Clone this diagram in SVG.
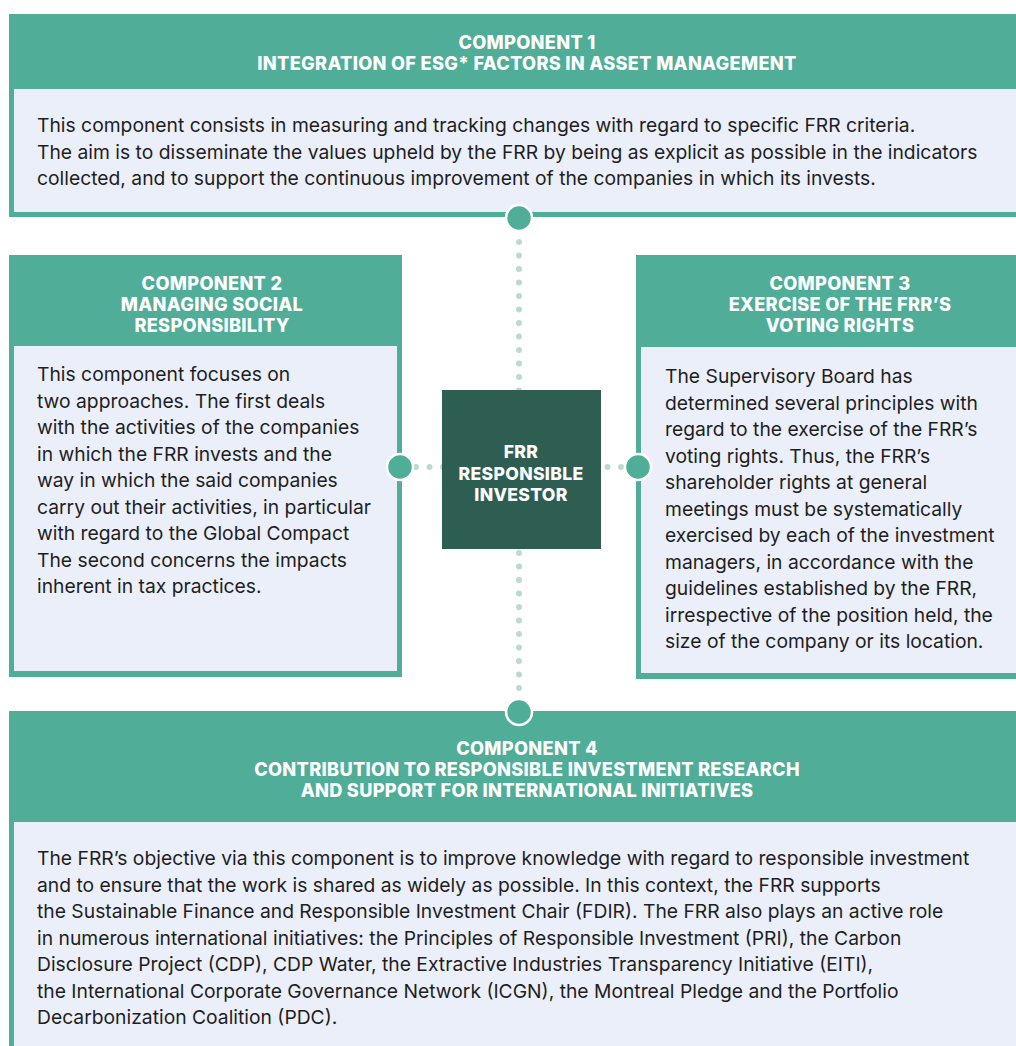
<svg xmlns="http://www.w3.org/2000/svg" width="1016" height="1046" viewBox="0 0 1016 1046">
<style>
.hd{fill:#50ad98}
.bd{fill:#ebeffa}
.ht{font-family:Inter,"Liberation Sans",sans-serif;font-weight:800;font-size:18.2px;fill:#ffffff;text-anchor:middle;letter-spacing:0.3px}
.nt{font-size:17.6px}
.bt{font-family:Inter,"Liberation Sans",sans-serif;font-size:19.3px;fill:#1e1e1e}
.dots{stroke:#b9dccf;stroke-width:6;stroke-linecap:round;stroke-dasharray:0 13.5;fill:none}
.pin{fill:#50ad98;stroke:#ffffff;stroke-width:2.5}
</style>
<rect width="1016" height="1046" fill="#ffffff"/>
<g id="connectors">
<line class="dots" x1="519" y1="242" x2="519" y2="392"/>
<line class="dots" x1="519" y1="553" x2="519" y2="700"/>
<line class="dots" x1="416" y1="467" x2="444" y2="467"/>
<line class="dots" x1="621" y1="467" x2="598" y2="467"/>
</g>
<g id="component1">
<rect class="hd" x="9" y="14" width="1040" height="203"/>
<rect class="bd" x="14" y="89" width="1035" height="123"/>
<text class="ht" x="527" y="49">COMPONENT 1</text>
<text class="ht" x="527" y="70">INTEGRATION OF ESG* FACTORS IN ASSET MANAGEMENT</text>
<text class="bt" x="37" y="132">This component consists in measuring and tracking changes with regard to specific FRR criteria.</text>
<text class="bt" x="37" y="158.5">The aim is to disseminate the values upheld by the FRR by being as explicit as possible in the indicators</text>
<text class="bt" x="37" y="185">collected, and to support the continuous improvement of the companies in which its invests.</text>
</g>
<g id="component2">
<rect class="hd" x="9" y="255" width="393" height="422"/>
<rect class="bd" x="14" y="346" width="383" height="325"/>
<text class="ht" x="212" y="290">COMPONENT 2</text>
<text class="ht" x="212" y="311">MANAGING SOCIAL</text>
<text class="ht" x="212" y="332">RESPONSIBILITY</text>
<text class="bt" x="37" y="381">This component focuses on</text>
<text class="bt" x="37" y="407.5">two approaches. The first deals</text>
<text class="bt" x="37" y="434">with the activities of the companies</text>
<text class="bt" x="37" y="460.5">in which the FRR invests and the</text>
<text class="bt" x="37" y="487">way in which the said companies</text>
<text class="bt" x="37" y="513.5">carry out their activities, in particular</text>
<text class="bt" x="37" y="540">with regard to the Global Compact</text>
<text class="bt" x="37" y="566.5">The second concerns the impacts</text>
<text class="bt" x="37" y="593">inherent in tax practices.</text>
</g>
<g id="component3">
<rect class="hd" x="636" y="255" width="413" height="424"/>
<rect class="bd" x="641" y="347" width="408" height="326"/>
<text class="ht" x="840" y="290">COMPONENT 3</text>
<text class="ht" x="840" y="311">EXERCISE OF THE FRR’S</text>
<text class="ht" x="840" y="332">VOTING RIGHTS</text>
<text class="bt" x="665" y="383">The Supervisory Board has</text>
<text class="bt" x="665" y="409.5">determined several principles with</text>
<text class="bt" x="665" y="436">regard to the exercise of the FRR’s</text>
<text class="bt" x="665" y="462.5">voting rights. Thus, the FRR’s</text>
<text class="bt" x="665" y="489">shareholder rights at general</text>
<text class="bt" x="665" y="515.5">meetings must be systematically</text>
<text class="bt" x="665" y="542">exercised by each of the investment</text>
<text class="bt" x="665" y="568.5">managers, in accordance with the</text>
<text class="bt" x="665" y="595">guidelines established by the FRR,</text>
<text class="bt" x="665" y="621.5">irrespective of the position held, the</text>
<text class="bt" x="665" y="648">size of the company or its location.</text>
</g>
<g id="component4">
<rect class="hd" x="9" y="711" width="1040" height="340"/>
<rect class="bd" x="14" y="822" width="1035" height="230"/>
<text class="ht" x="527" y="755">COMPONENT 4</text>
<text class="ht" x="527" y="776">CONTRIBUTION TO RESPONSIBLE INVESTMENT RESEARCH</text>
<text class="ht" x="527" y="797">AND SUPPORT FOR INTERNATIONAL INITIATIVES</text>
<text class="bt" x="37" y="865">The FRR’s objective via this component is to improve knowledge with regard to responsible investment</text>
<text class="bt" x="37" y="891.5">and to ensure that the work is shared as widely as possible. In this context, the FRR supports</text>
<text class="bt" x="37" y="918">the Sustainable Finance and Responsible Investment Chair (FDIR). The FRR also plays an active role</text>
<text class="bt" x="37" y="944.5">in numerous international initiatives: the Principles of Responsible Investment (PRI), the Carbon</text>
<text class="bt" x="37" y="971">Disclosure Project (CDP), CDP Water, the Extractive Industries Transparency Initiative (EITI),</text>
<text class="bt" x="37" y="997.5">the International Corporate Governance Network (ICGN), the Montreal Pledge and the Portfolio</text>
<text class="bt" x="37" y="1024">Decarbonization Coalition (PDC).</text>
</g>
<g id="pins">
<circle class="pin" cx="519" cy="218" r="13"/>
<circle class="pin" cx="400" cy="467" r="13"/>
<circle class="pin" cx="638" cy="467" r="13"/>
<circle class="pin" cx="519" cy="712" r="13"/>
</g>
<g id="frr-investor">
<rect x="442" y="390" width="159" height="159" fill="#2e5e52"/>
<text class="ht nt" x="521" y="458">FRR</text>
<text class="ht nt" x="521" y="479.5">RESPONSIBLE</text>
<text class="ht nt" x="521" y="501">INVESTOR</text>
</g>
</svg>
